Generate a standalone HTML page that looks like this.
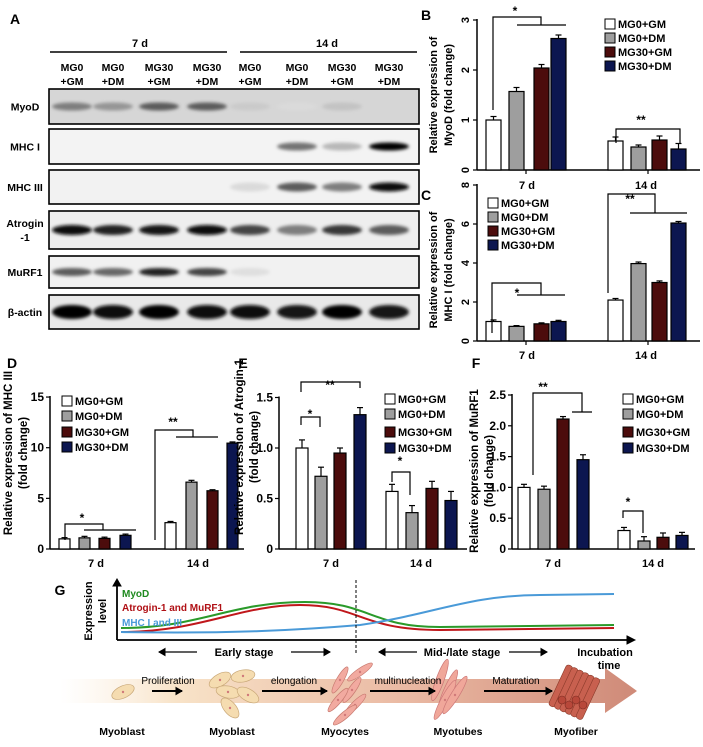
<!DOCTYPE html>
<html><head><meta charset="utf-8"><style>
html,body{margin:0;padding:0;background:#fff;}
svg{display:block;font-family:"Liberation Sans",Arial,sans-serif;}
</style></head><body>
<svg id="s" width="703" height="747" viewBox="0 0 703 747" xmlns="http://www.w3.org/2000/svg">
<defs>
<filter id="bl" x="-50%" y="-100%" width="200%" height="300%"><feGaussianBlur stdDeviation="1.6"/></filter>
<linearGradient id="ag" x1="0" x2="1" y1="0" y2="0">
<stop offset="0" stop-color="#fbeedd" stop-opacity="0"/>
<stop offset="0.2" stop-color="#f8e3c8"/>
<stop offset="0.6" stop-color="#eab9a3"/>
<stop offset="1" stop-color="#cf8a78"/>
</linearGradient>
</defs>
<g id="root"></g>
</svg>
<script>
var S=document.getElementById('root');var h='';
function t(x,y,s,o){o=o||{};h+='<text x="'+x+'" y="'+y+'" font-size="'+(o.fs||11)+'" font-weight="'+(o.fw||'bold')+'" text-anchor="'+(o.a||'middle')+'" fill="'+(o.c||'#000')+'"'+(o.r?' transform="rotate('+o.r+' '+x+' '+y+')"':'')+'>'+s+'</text>';}
function L(x1,y1,x2,y2,w,c){h+='<line x1="'+x1+'" y1="'+y1+'" x2="'+x2+'" y2="'+y2+'" stroke="'+(c||'#000')+'" stroke-width="'+(w||1.2)+'"/>';}
function P(d,w,c,f){h+='<path d="'+d+'" fill="'+(f||'none')+'" stroke="'+(c||'#000')+'" stroke-width="'+(w||1.2)+'"/>';}
function R(x,y,w,hh,f,s,sw){h+='<rect x="'+x+'" y="'+y+'" width="'+w+'" height="'+hh+'" fill="'+f+'"'+(s?' stroke="'+s+'" stroke-width="'+(sw||1.2)+'"':'')+'/>';}
// Panel A
t(15,24,'A',{fs:14,a:'middle'});
t(140,47,'7 d',{fs:11});t(327,47,'14 d',{fs:11});
L(50,52,227,52,1.5);L(240,52,417,52,1.5);
var lx=[72,113,159,207,250,297,342,389],l1=['MG0','MG0','MG30','MG30','MG0','MG0','MG30','MG30'],l2=['+GM','+DM','+GM','+DM','+GM','+DM','+GM','+DM'];
for(var i=0;i<8;i++){t(lx[i],71,l1[i],{fs:10.5});t(lx[i],85,l2[i],{fs:10.5});}
var blots=[[89,124,'#d6d6d6'],[129,164,'#f3f3f3'],[170,204,'#f2f2f2'],[211,249,'#eeeeee'],[256,288,'#f1f1f1'],[295,329,'#e9e9e9']];
var names=[['MyoD'],['MHC I'],['MHC III'],['Atrogin','-1'],['MuRF1'],['β-actin']];
var inten=[[.45,.35,.6,.6,.12,.05,.15,0],[0,0,0,0,0,.5,.2,1],[0,0,0,0,.05,.6,.45,.95],[.95,.85,.9,.95,.7,.45,.75,.6],[.6,.55,.85,.7,.03,0,0,0],[1,.95,1,.95,.95,.9,1,.9]];
var ry=[4,4,4.5,5,4,7];
for(var b=0;b<6;b++){var B=blots[b];R(49,B[0],370,B[1]-B[0],B[2],'#000',1.6);
 var cy=(B[0]+B[1])/2;
 for(var i=0;i<8;i++){var v=inten[b][i];if(v>0){var g=Math.round(255*(1-v)*0.9);h+='<ellipse cx="'+lx[i]+'" cy="'+cy+'" rx="20" ry="'+ry[b]+'" fill="rgb('+g+','+g+','+g+')" filter="url(#bl)"/>';}}
 var n=names[b];if(n.length==1)t(25,cy+4,n[0],{fs:10.5});else{t(25,cy-3,n[0],{fs:10.5});t(25,cy+11,n[1],{fs:10.5});}
}
var cols=['#ffffff','#9e9e9e','#4c0c0c','#0c1650'];
function leg(x,ys,fs){var nm=['MG0+GM','MG0+DM','MG30+GM','MG30+DM'];for(var i=0;i<4;i++){R(x-5,ys[i]-5,10,10,cols[i],'#000',1);t(x+8,ys[i]+4,nm[i],{fs:fs||11,a:'start'});}}
function bars(xs,w,vals,errs,y0,sc){for(var i=0;i<8;i++){var x=xs[i],v=vals[i],e=errs[i],top=y0-v*sc;var cx=x+w/2;
 L(cx,top,cx,top-e*sc,1.2);L(cx-3,top-e*sc,cx+3,top-e*sc,1.2);R(x,top,w,v*sc,cols[i%4],'#000',1.2);}}
function axis(ax,y0,x2,sc,ticks,lbls,rot,fs){L(ax,y0,x2,y0,1.5);L(ax,y0-ticks[ticks.length-1]*sc-1,ax,y0,1.5);
 for(var i=0;i<ticks.length;i++){var y=y0-ticks[i]*sc;L(ax-4,y,ax,y,1.2);if(rot)t(ax-8,y,lbls[i],{fs:fs||11,r:-90});else t(ax-6,y+4,lbls[i],{fs:fs||11,a:'end'});}}
// B
t(426,20,'B',{fs:14});
axis(477,170,700,50,[0,1,2,3],['0','1','2','3'],true);
var bx=[486,509,534,551,608,631,652,671];
bars(bx,15,[1,1.57,2.04,2.63,.58,.46,.60,.42],[.07,.08,.07,.07,.08,.04,.08,.11],170,50);
L(526,170,526,174);L(648,170,648,174);
t(527,189,'7 d');t(646,189,'14 d');
t(437,95,'Relative expression of',{fs:11,r:-90});t(452,95,'MyoD (fold change)',{fs:11,r:-90});
leg(610,[24,38,52,66]);
P('M493 110 V17 H541 V25');L(517,25,566,25);t(515,15,'*',{fs:12});
P('M616 143 V129 H680 V143');t(641,124,'**',{fs:12});
// C
t(426,200,'C',{fs:14});
axis(477,341,700,19.5,[0,2,4,6,8],['0','2','4','6','8'],true);
bars(bx,15,[1,.75,.88,1,2.1,3.97,3.0,6.05],[.08,.04,.05,.06,.08,.08,.08,.08],341,19.5);
L(526,341,526,345);L(648,341,648,345);
t(527,359,'7 d');t(646,359,'14 d');
t(437,270,'Relative expression of',{fs:11,r:-90});t(452,270,'MHC I (fold change)',{fs:11,r:-90});
leg(493,[203,217,231,245]);
P('M492 333 V283 H541 V295');L(517,295,565,295);t(517,297,'*',{fs:12});
P('M608 293 V194 H655 V213');L(630,213,687,213);t(630,203,'**',{fs:12});
// D
t(12,368,'D',{fs:14});
axis(50,549,244,10.13,[0,5,10,15],['0','5','10','15'],false,12);
bars([59,79,99,120,165,186,207,227],11,[1,1.1,1.05,1.35,2.6,6.6,5.75,10.45],[.12,.15,.12,.12,.12,.18,.1,.12],549,10.13);
t(96,567,'7 d');t(198,567,'14 d');
t(12,453,'Relative expression of MHC III',{fs:11.5,r:-90});t(27,453,'(fold change)',{fs:11.5,r:-90});
leg(67,[401,416,432,447]);
P('M65 540 V524 H103 V530');L(84,530,136,530);t(82,522,'*',{fs:12});
P('M155 540 V430 H193 V437');L(176,437,218,437);t(173,426,'**',{fs:12});
// E
t(243,368,'E',{fs:14});
axis(279,549,467,101,[0,.5,1,1.5],['0','0.5','1.0','1.5'],false,12);
bars([296,315,334,354,386,406,426,445],12,[1,.72,.95,1.33,.57,.36,.60,.48],[.08,.09,.05,.07,.07,.07,.07,.09],549,101);
t(331,567,'7 d');t(421,567,'14 d');
t(243,447,'Relative expression of Atrogin-1',{fs:11.5,r:-90});t(258,447,'(fold change)',{fs:11.5,r:-90});
leg(390,[399,414,432,448]);
P('M301 392 V382 H360 V388');t(330,389,'**',{fs:12});
P('M301 425 V417 H320 V427');t(310,418,'*',{fs:12});
P('M392 482 V472 H410 V495');t(400,465,'*',{fs:12});
// F
t(476,368,'F',{fs:14});
axis(512,549,695,61.6,[0,.5,1,1.5,2,2.5],['0','0.5','1.0','1.5','2.0','2.5'],false,12);
bars([518,538,557,577,618,638,657,676],12,[1,.97,2.11,1.45,.30,.13,.19,.22],[.05,.05,.04,.08,.05,.07,.07,.05],549,61.6);
t(553,567,'7 d');t(653,567,'14 d');
t(478,471,'Relative expression of MuRF1',{fs:11.5,r:-90});t(493,471,'(fold change)',{fs:11.5,r:-90});
leg(628,[399,414,432,448]);
P('M533 475 V393 H582 V412');L(572,412,592,412);t(543,391,'**',{fs:12});
P('M623 518 V511 H643 V533');t(628,506,'*',{fs:12});
// G
t(60,595,'G',{fs:14});
P('M117 640 V583',1.8);P('M113 586 L117 579 L121 586 Z',1,'#000','#000');
P('M117 640 H630',1.8);P('M627 636 L635 640 L627 644 Z',1,'#000','#000');
t(92,611,'Expression',{fs:11,r:-90});t(106,611,'level',{fs:11,r:-90});
P('M121 628 C200 628 230 602 305 602 C370 602 370 627 440 627 L614 625',2,'#2a9a2a');
P('M121 632 C200 632 240 605 300 605 C360 605 360 630 440 630 L614 628',2,'#c0171b');
P('M121 632 C230 634 300 630 360 625 C430 615 470 595 540 595 L614 594',2,'#4a9ad8');
t(122,597,'MyoD',{fs:10,a:'start',c:'#1f8a1f'});
t(122,611,'Atrogin-1 and MuRF1',{fs:10,a:'start',c:'#b01015'});
t(122,626,'MHC I and III',{fs:10,a:'start',c:'#4a9ad8'});
h+='<line x1="356" y1="580" x2="356" y2="654" stroke="#000" stroke-width="1" stroke-dasharray="3,2"/>';
function arr(x1,x2,y,w){L(x1,y,x2,y,w||1.3);var d=x2>x1?1:-1;P('M'+(x2-6*d)+' '+(y-3.5)+' L'+x2+' '+y+' L'+(x2-6*d)+' '+(y+3.5)+' Z',1,'#000','#000');}
t(244,656,'Early stage',{fs:11});arr(197,159,652);arr(291,330,652);
t(462,656,'Mid-/late stage',{fs:11});arr(417,379,652);arr(509,547,652);
t(605,656,'Incubation',{fs:11});t(609,669,'time',{fs:11});
h+='<path d="M60 679 H605 V668 L637 691 L605 713 V703 H60 Z" fill="url(#ag)" stroke="none"/>';
function cell(cx,cy,rx,ry,rot,f,s){h+='<ellipse cx="'+cx+'" cy="'+cy+'" rx="'+rx+'" ry="'+ry+'" transform="rotate('+rot+' '+cx+' '+cy+')" fill="'+f+'" stroke="'+s+'" stroke-width="0.7"/><circle cx="'+cx+'" cy="'+cy+'" r="1.2" fill="#d07a7a"/>';}
cell(123,692,12,6,-25,'#f5dcb0','#c9a878');
[[220,680],[243,676],[228,692],[248,695],[230,708]].forEach(function(p,i){cell(p[0],p[1],12,6,-30+i*20,'#f5dcb0','#c9a878');});
[[340,680],[352,690],[338,700],[355,705],[345,715],[360,672]].forEach(function(p,i){cell(p[0],p[1],15,3.5,-60+i*5,'#f2aaa0','#c87a70');});
[[440,680],[448,690],[445,700],[455,695]].forEach(function(p,i){cell(p[0],p[1],22,4,-70+i*4,'#f0a79a','#c77');});
for(var i=0;i<6;i++){h+='<rect x="'+(556+i*6)+'" y="670" width="7" height="45" rx="3" fill="#c8604f" stroke="#8a3a2a" stroke-width="0.6" transform="rotate(25 575 692)"/>';}
for(var i=0;i<4;i++){h+='<circle cx="'+(562+i*7)+'" cy="'+(700+(i%2)*5)+'" r="4" fill="#b8483a" stroke="#7a2a20" stroke-width="0.6"/>';}
t(168,684,'Proliferation',{fs:10,fw:'normal'});t(294,684,'elongation',{fs:10,fw:'normal'});
t(408,684,'multinucleation',{fs:10,fw:'normal'});t(516,684,'Maturation',{fs:10,fw:'normal'});
arr(152,182,691,2);arr(262,327,691,2);arr(370,435,691,2);arr(484,552,691,2);
t(122,735,'Myoblast',{fs:10.5});t(232,735,'Myoblast',{fs:10.5});t(345,735,'Myocytes',{fs:10.5});
t(458,735,'Myotubes',{fs:10.5});t(576,735,'Myofiber',{fs:10.5});
S.innerHTML=h;
</script>
</body></html>
